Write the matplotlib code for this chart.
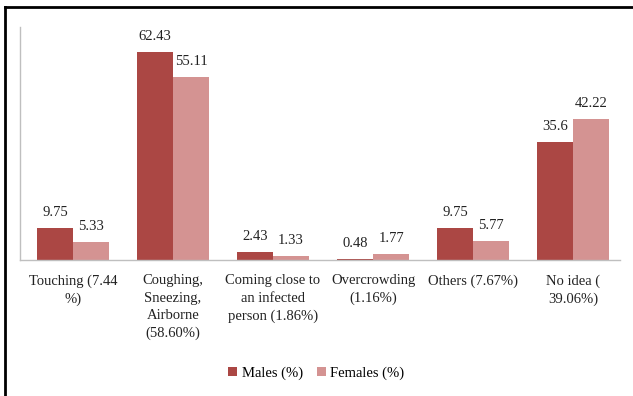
import matplotlib.pyplot as plt
import numpy as np
from matplotlib.lines import Line2D

categories = ["Touching (7.44\n%)", "Coughing,\nSneezing,\nAirborne\n(58.60%)",
              "Coming close to\nan infected\nperson (1.86%)", "Overcrowding\n(1.16%)",
              "Others (7.67%)", "No idea (\n39.06%)"]
males = [9.75, 62.43, 2.43, 0.48, 9.75, 35.6]
females = [5.33, 55.11, 1.33, 1.77, 5.77, 42.22]

plt.rcParams['font.family'] = ['Liberation Serif', 'DejaVu Serif']

fig = plt.figure(figsize=(6.33, 3.96), dpi=100)
ax = fig.add_axes([0.0316, 0.343, 0.948, 0.589])

x = np.arange(len(categories))
w = 0.36
b1 = ax.bar(x - w / 2, males, w, color="#AB4744", label="Males (%)")
b2 = ax.bar(x + w / 2, females, w, color="#D49392", label="Females (%)")

for bars, vals in ((b1, males), (b2, females)):
    for rect, v in zip(bars, vals):
        ax.text(rect.get_x() + rect.get_width() / 2, v + 2.7, f"{v:g}",
                ha="center", va="bottom", fontsize=10.5, color="#222222")

ax.set_xlim(-0.53, len(categories) - 0.53)
ax.set_ylim(0, 70)
ax.set_yticks([])
ax.set_xticks(x)
ax.set_xticklabels(categories, fontsize=10.5, linespacing=1.45, color="#222222")
ax.tick_params(axis="x", length=0, pad=10)
for s in ("top", "right"):
    ax.spines[s].set_visible(False)
for s in ("left", "bottom"):
    ax.spines[s].set_color("#BFBFBF")
    ax.spines[s].set_linewidth(1.0)

fig.legend(handles=[b1, b2], loc="center", bbox_to_anchor=(0.5, 0.057), ncol=2,
           frameon=False, fontsize=10.5, handlelength=0.6, handleheight=0.6,
           handletextpad=0.3, columnspacing=1.0)

# outer frame lines
fig.add_artist(Line2D([5 / 633, 1.0], [1 - 7 / 396, 1 - 7 / 396], color="black", lw=2.0))
fig.add_artist(Line2D([5 / 633, 5 / 633], [0.0, 1 - 7 / 396], color="black", lw=2.0))

fig.savefig("out.png", dpi=100)
